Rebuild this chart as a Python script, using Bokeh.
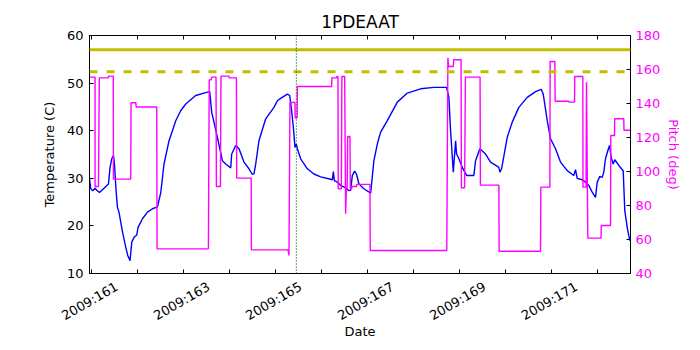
import math
from bokeh.plotting import figure
from bokeh.models import Range1d, LinearAxis, FixedTicker, Span
from bokeh.embed import file_html
from bokeh.resources import INLINE

# ---------------- data ----------------
title_text = "1PDEAAT"
x_start, x_end = 160.957, 172.724
day_ticks = [161, 162, 163, 164, 165, 166, 167, 168, 169, 170, 171, 172]
label_days = [161, 163, 165, 167, 169, 171]
label_texts = ["2009:161", "2009:163", "2009:165", "2009:167", "2009:169", "2009:171"]
temp_ticks = [10, 20, 30, 40, 50, 60]
pitch_ticks = [40, 60, 80, 100, 120, 140, 160, 180]

temp_day = [160.957, 160.985, 161.028, 161.078, 161.115, 161.174, 161.261, 161.370,
            161.404, 161.441, 161.478, 161.500, 161.535, 161.565, 161.600, 161.674,
            161.746, 161.789, 161.839, 161.876, 161.926, 161.985, 162.013, 162.109,
            162.217, 162.326, 162.435, 162.507, 162.578, 162.687, 162.833, 162.940,
            163.050, 163.267, 163.485, 163.572, 163.615, 163.739, 163.848, 163.920,
            164.028, 164.050, 164.137, 164.209, 164.317, 164.426, 164.500, 164.535,
            164.572, 164.643, 164.789, 164.970, 165.043, 165.115, 165.261, 165.311,
            165.354, 165.391, 165.426, 165.457, 165.478, 165.550, 165.696, 165.839,
            165.985, 166.202, 166.239, 166.261, 166.283, 166.348, 166.420, 166.528,
            166.600, 166.637, 166.674, 166.724, 166.767, 166.817, 166.926, 167.072,
            167.143, 167.217, 167.289, 167.435, 167.652, 167.870, 168.159, 168.448,
            168.724, 168.774, 168.811, 168.870, 168.920, 168.941, 168.991, 169.065,
            169.159, 169.317, 169.354, 169.448, 169.572, 169.680, 169.861, 169.883,
            169.920, 170.043, 170.152, 170.296, 170.478, 170.659, 170.783, 170.826,
            170.913, 170.985, 171.093, 171.202, 171.348, 171.491, 171.528, 171.565,
            171.674, 171.746, 171.817, 171.891, 171.963, 172.000, 172.057, 172.109,
            172.143, 172.180, 172.230, 172.267, 172.304, 172.348, 172.383, 172.470,
            172.565, 172.600, 172.652, 172.709]
temp_val = [29.9, 27.8, 27.4, 27.9, 27.5, 27.0, 27.8, 28.8,
            32.3, 34.1, 34.8, 33.0, 27.4, 23.9, 22.8, 18.8,
            15.5, 13.8, 12.7, 16.6, 17.6, 18.1, 19.7, 21.5,
            22.9, 23.6, 24.0, 27.0, 33.0, 37.9, 42.1, 44.2,
            45.6, 47.4, 48.0, 48.2, 43.9, 38.6, 33.7, 33.0,
            32.2, 35.1, 36.9, 36.2, 33.4, 32.0, 30.8, 31.0,
            33.0, 37.9, 42.5, 44.9, 46.3, 46.8, 47.7, 47.4,
            44.2, 40.7, 36.5, 37.2, 36.2, 34.1, 32.0, 30.9,
            30.3, 29.8, 29.7, 31.4, 29.5, 29.2, 28.5, 28.0,
            27.4, 27.5, 30.6, 31.5, 30.8, 28.8, 27.8, 26.9,
            33.7, 37.2, 39.7, 42.1, 46.0, 47.9, 48.8, 49.1,
            49.1, 47.0, 40.0, 31.3, 37.9, 35.1, 34.1, 32.3,
            30.6, 30.6, 33.7, 36.2, 35.1, 33.4, 32.3, 31.3,
            32.0, 38.6, 41.8, 44.9, 47.0, 48.2, 48.7, 47.7,
            42.1, 38.3, 36.2, 33.4, 31.6, 30.6, 31.8, 30.0,
            29.7, 29.2, 28.5, 27.1, 26.0, 29.2, 30.4, 30.2,
            31.3, 34.1, 35.8, 36.9, 34.4, 33.0, 33.9, 32.7,
            31.6, 23.2, 19.7, 16.9]

pitch_day = [160.957, 161.078, 161.078, 161.152, 161.170, 161.370, 161.370, 161.474,
             161.478, 161.854, 161.861, 161.963, 161.974, 162.420, 162.426, 163.543,
             163.561, 163.604, 163.615, 163.709, 163.717, 163.804, 163.817, 163.991,
             163.996, 164.152, 164.159, 164.474, 164.478, 165.274, 165.296, 165.317,
             165.426, 165.430, 165.474, 165.478, 166.224, 166.228, 166.333, 166.337,
             166.361, 166.367, 166.435, 166.446, 166.507, 166.528, 166.543, 166.561,
             166.572, 166.622, 166.630, 166.659, 166.663, 166.767, 166.772, 167.057,
             167.063, 168.728, 168.752, 168.767, 168.870, 168.876, 169.039, 169.046,
             169.115, 169.133, 169.452, 169.459, 169.861, 169.867, 170.767, 170.774,
             170.970, 170.976, 171.078, 171.085, 171.383, 171.387, 171.507, 171.511,
             171.687, 171.691, 171.757, 171.767, 171.796, 172.083, 172.089, 172.289,
             172.296, 172.376, 172.380, 172.578, 172.583, 172.724]
pitch_val = [155.5, 155.5, 91.2, 91.2, 155.1, 155.1, 156.1, 156.1,
             95.5, 95.5, 140.4, 140.4, 137.9, 137.9, 54.5, 54.5,
             153.9, 153.9, 155.5, 155.5, 91.2, 91.2, 156.1, 156.1,
             155.1, 155.1, 96.1, 96.1, 53.9, 53.9, 50.6, 140.6,
             140.6, 131.6, 131.6, 150.0, 150.0, 155.1, 155.1, 155.9,
             155.9, 89.8, 89.8, 155.9, 155.9, 75.1, 89.8, 89.8,
             120.6, 120.6, 89.8, 89.8, 91.2, 91.2, 92.4, 92.4,
             53.5, 53.5, 166.9, 161.8, 161.8, 165.7, 165.7, 90.4,
             90.4, 155.5, 155.5, 92.0, 92.0, 53.1, 53.1, 90.8,
             90.8, 164.7, 164.7, 141.3, 141.3, 140.8, 140.8, 155.9,
             155.9, 90.8, 90.8, 152.5, 60.8, 60.8, 68.2, 68.2,
             121.2, 121.2, 131.0, 131.0, 124.3, 124.3]

planning_limit = 57.0
caution_limit = 52.4
marker_day = 165.457

FONT = "DejaVu Sans"
MAGENTA = "#ff00ff"
LABEL_SHIFT = 0.55   # Bokeh anchors rotated labels at their right end; shift so they sit centred

p = figure(width=700, height=350, x_range=Range1d(x_start, x_end), y_range=Range1d(10, 60),
           output_backend="svg", toolbar_location=None, title=title_text,
           min_border_left=89, min_border_right=70, min_border_top=35, min_border_bottom=77)
p.extra_y_ranges = {"pitch": Range1d(40, 180)}
p.extra_x_ranges = {"lab": Range1d(x_start - LABEL_SHIFT, x_end - LABEL_SHIFT)}

p.title.text_font = FONT
p.title.text_font_size = "17px"
p.title.text_font_style = "normal"
p.title.text_color = "black"
p.title.align = "center"
p.title.standoff = 8
p.xgrid.visible = False
p.ygrid.visible = False
p.outline_line_color = "black"
p.outline_line_width = 1
p.background_fill_color = "white"
p.border_fill_color = "white"


def style_axis(ax):
    ax.major_tick_in = 4
    ax.major_tick_out = 0
    ax.minor_tick_in = 0
    ax.minor_tick_out = 0
    ax.axis_line_color = "black"
    ax.major_tick_line_color = "black"
    ax.major_label_text_font = FONT
    ax.major_label_text_font_size = "13px"
    ax.major_label_text_color = "black"
    ax.axis_label_text_font = FONT
    ax.axis_label_text_font_size = "13px"
    ax.axis_label_text_font_style = "normal"
    ax.axis_label_text_color = "black"


xa = p.xaxis[0]
style_axis(xa)
xa.ticker = FixedTicker(ticks=day_ticks)
xa.major_label_overrides = {d: "" for d in day_ticks}
xa.major_label_standoff = 0

lab_axis = LinearAxis(x_range_name="lab", ticker=FixedTicker(ticks=label_days),
                      major_label_overrides={d: t for d, t in zip(label_days, label_texts)},
                      axis_label="Date")
style_axis(lab_axis)
lab_axis.axis_line_color = None
lab_axis.major_tick_line_color = None
lab_axis.major_tick_in = 0
lab_axis.major_label_orientation = math.pi / 6
lab_axis.major_label_standoff = 12
lab_axis.axis_label_standoff = -9
p.add_layout(lab_axis, "below")

ya = p.yaxis[0]
style_axis(ya)
ya.ticker = FixedTicker(ticks=temp_ticks)
ya.axis_label = "Temperature (C)"
ya.major_label_standoff = 6
ya.axis_label_standoff = 7

top = LinearAxis(ticker=FixedTicker(ticks=day_ticks),
                 major_label_overrides={d: "" for d in day_ticks})
style_axis(top)
top.major_label_standoff = 0
p.add_layout(top, "above")

ra = LinearAxis(y_range_name="pitch", ticker=FixedTicker(ticks=pitch_ticks),
                axis_label="Pitch (deg)")
style_axis(ra)
ra.major_label_text_color = MAGENTA
ra.axis_label_text_color = MAGENTA
ra.axis_label_standoff = 3
p.add_layout(ra, "right")

p.add_layout(Span(location=planning_limit, dimension="width", line_color="#bfbf00", line_width=3))
p.add_layout(Span(location=caution_limit, dimension="width", line_color="#bfbf00", line_width=3,
                  line_dash="8 9"))

p.line(temp_day, temp_val, line_color="#0000ff", line_width=1.4)
p.line(pitch_day, pitch_val, line_color=MAGENTA, line_width=1.4, y_range_name="pitch")

p.add_layout(Span(location=marker_day, dimension="height", line_color="#006400", line_width=1.2,
                  line_dash="1 2"))

open("out.html", "w").write(file_html(p, INLINE))
